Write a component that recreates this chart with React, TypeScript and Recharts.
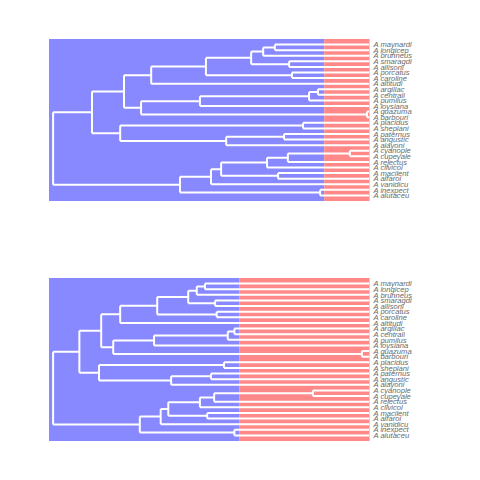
import { ComposedChart, Line, XAxis, YAxis, ReferenceArea } from "recharts";

// tip labels, top to bottom
const tipLabels = [
  "A maynardi", "A longicep", "A brunneus", "A smaragdi", "A allisoni",
  "A porcatus", "A caroline", "A altitudi", "A argillac", "A centrali",
  "A pumilus", "A loysiana", "A guazuma", "A barbouri", "A placidus",
  "A sheplani", "A paternus", "A angustic", "A alayoni", "A cyanople",
  "A cupeyale", "A rejectus", "A clivicol", "A macilent", "A alfaroi",
  "A vanidicu", "A inexpect", "A alutaceu",
];

// internal nodes: numbers are tip indexes, strings are other nodes
const nodeNames = ["A", "B", "C", "D", "E", "F", "G", "H", "I", "J", "K", "L", "M", "N",
  "O", "P", "Q", "R", "S", "T", "U", "V", "W", "X", "Y", "Z", "root"];
const nodeChildren: (number | string)[][] = [
  [0, 1], ["A", 2], [3, 4], ["B", "C"], [5, 6], ["D", "E"], ["F", 7],
  [8, 9], ["H", 10], ["I", 11], [12, 13], ["J", "K"], ["G", "L"],
  [14, 15], [16, 17], ["O", 18], ["N", "P"], ["M", "Q"],
  [19, 20], ["S", 21], ["T", 22], [23, 24], ["U", "V"], ["W", 25], [26, 27],
  ["X", "Y"], ["R", "Z"],
];

// node ages (root = 100, tips = 0)
const topAges = [29.9, 33.6, 25.4, 37.4, 24.5, 51.7, 69.0, 16.3, 19.1, 53.6, 0.8, 72.2, 77.6,
  21.0, 27.0, 45.3, 78.8, 87.7, 6.2, 25.8, 32.4, 28.9, 46.9, 50.1, 15.6, 59.9, 100];
const bottomAges = [52.0, 54.6, 48.8, 57.3, 48.3, 67.1, 78.8, 42.7, 44.8, 68.1, 2.4, 81.0, 84.8,
  46.0, 50.1, 62.7, 85.5, 91.7, 17.9, 49.1, 53.6, 51.3, 63.6, 66.0, 42.7, 72.6, 100];

const topShift = 14.3;
const bottomShift = 41.2;
const maxAge = 101.3;

const BLUE = "#8888ff";
const RED = "#ff8888";

function treeSegments(ages: number[]) {
  const ageOf = (c: number | string) => (typeof c === "number" ? 0 : ages[nodeNames.indexOf(c)]);
  const yCache: Record<string, number> = {};
  const yOf = (c: number | string): number => {
    if (typeof c === "number") return c;
    if (yCache[c] !== undefined) return yCache[c];
    const kids = nodeChildren[nodeNames.indexOf(c)];
    const v = (yOf(kids[0]) + yOf(kids[1])) / 2;
    yCache[c] = v;
    return v;
  };
  const pts: { x: number; y: number | null }[] = [];
  nodeNames.forEach((name, i) => {
    const a = ages[i];
    const kids = nodeChildren[i];
    const y1 = yOf(kids[0]);
    const y2 = yOf(kids[1]);
    pts.push({ x: a, y: y1 }, { x: a, y: y2 }, { x: a, y: null });
    kids.forEach((k) => {
      const yk = yOf(k);
      pts.push({ x: a, y: yk }, { x: ageOf(k), y: yk }, { x: ageOf(k), y: null });
    });
  });
  return pts;
}

function TreePanel({ ages, shift, top, marginTop }: { ages: number[]; shift: number; top: number; marginTop: number }) {
  const data = treeSegments(ages);
  return (
    <div style={{ position: "absolute", left: 0, top }}>
      <ComposedChart width={480} height={240} data={data} margin={{ top: marginTop, right: 0, bottom: 39, left: 49 }}>
        <XAxis dataKey="x" type="number" domain={[0, maxAge]} reversed hide allowDataOverflow />
        <YAxis
          type="number"
          orientation="right"
          domain={[-1, 28]}
          reversed
          ticks={tipLabels.map((_, i) => i)}
          interval={0}
          tickFormatter={(v: number) => tipLabels[v]}
          tick={{ fill: "#6a6a6a", fontSize: 7.6, fontStyle: "italic", fontFamily: "Liberation Sans, Arial, sans-serif", textAnchor: "start" }}
          tickLine={false}
          axisLine={false}
          tickSize={0}
          tickMargin={4}
          width={110.5}
          allowDataOverflow
        />
        <ReferenceArea x1={maxAge} x2={shift} y1={-1} y2={28} fill={BLUE} fillOpacity={1} stroke="none" />
        <ReferenceArea x1={shift} x2={0} y1={-1} y2={28} fill={RED} fillOpacity={1} stroke="none" />
        <Line
          dataKey="y"
          type="linear"
          stroke="#fff"
          strokeWidth={2}
          dot={false}
          activeDot={false}
          connectNulls={false}
          isAnimationActive={false}
        />
      </ComposedChart>
    </div>
  );
}

export default function App() {
  return (
    <div style={{ position: "absolute", left: 0, top: 0, width: 480, height: 480, background: "#fff" }}>
      <TreePanel ages={topAges} shift={topShift} top={0} marginTop={39} />
      <TreePanel ages={bottomAges} shift={bottomShift} top={240} marginTop={38} />
    </div>
  );
}
